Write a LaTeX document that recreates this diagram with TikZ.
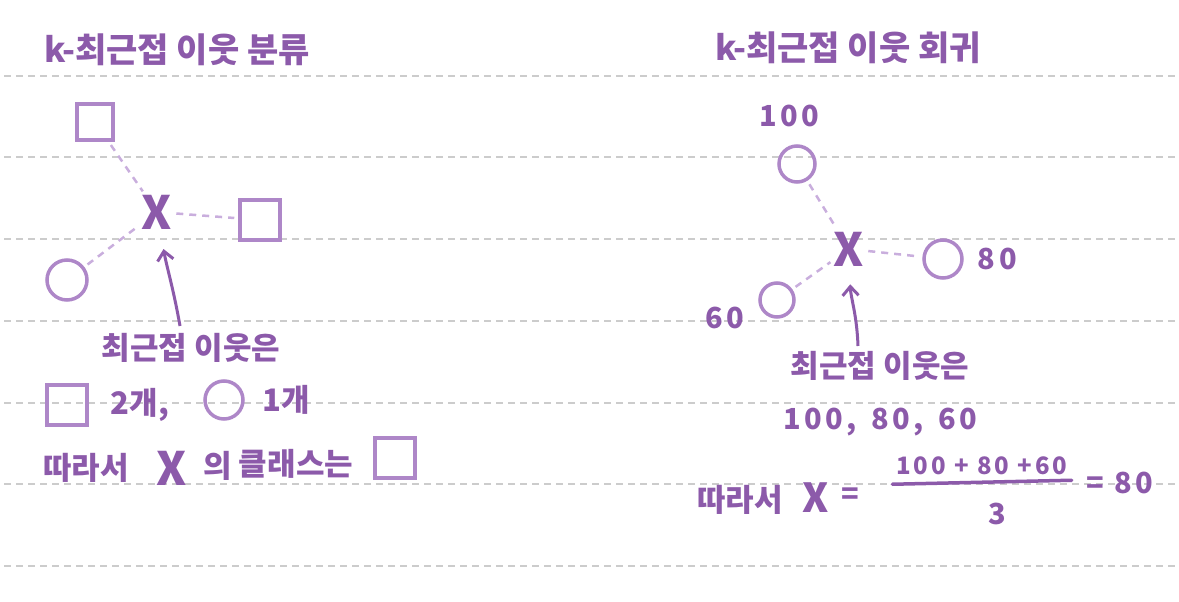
\documentclass[tikz,border=0pt]{standalone}
\usepackage{fontspec}
\setmainfont{Noto Sans CJK KR}
\newfontfamily\digitfont[LetterSpace=12]{Noto Sans CJK KR}
\usetikzlibrary{arrows.meta,positioning}
\definecolor{ink}{HTML}{8C5AAA}
\definecolor{shapec}{HTML}{AE87C8}
\definecolor{linkc}{HTML}{C9AEDD}
\definecolor{rulec}{HTML}{CCCCCC}

\begin{document}
\begin{tikzpicture}[x=1pt, y=-1pt, every node/.style={text=ink, inner sep=0pt}, title/.style={font=\fontsize{34}{36}\selectfont\bfseries}, note/.style={font=\fontsize{31}{34}\selectfont\bfseries}, num/.style={font=\digitfont\fontsize{29}{32}\selectfont\bfseries}, sq/.style={draw=shapec, line width=3.5pt, minimum size=36pt}, circ/.style={draw=shapec, line width=3.5pt, circle, minimum size=38pt}, query/.style={font=\fontsize{46}{46}\selectfont\bfseries}, link/.style={draw=linkc, line width=2.5pt, dash pattern=on 7pt off 6pt, shorten <=4pt, shorten >=4pt}, ptr/.style={draw=ink, line width=3pt, -{Straight Barb[length=9pt, width=16pt]}}]
\useasboundingbox (0,0) rectangle (1179,602);
% ruled paper
\foreach \y in {76,157,239,321,403,484,566}
  \draw[rulec, line width=1.2pt, dash pattern=on 7pt off 5pt] (4,\y) -- (1175,\y);

% left: classification
\node[title] (titlel) at (177,50) {k-최근접 이웃 분류};
\node[sq] (sqa) at (95,122) {};
\node[query] (xl) at (157,212) {X};
\node[sq, minimum size=40pt] (sqb) at (260,220) {};
\node[circ, minimum size=40pt] (cira) at (67,280) {};
\draw[link] (sqa) -- (xl);
\draw[link] (xl) -- (sqb);
\draw[link] (cira) -- (xl);
\coordinate (ptrl) at (180,326);
\draw[ptr, shorten >=20pt] (ptrl) to[out=100, in=-80] (xl);
\node[note] (nearl) at (191,348) {최근접 이웃은};
\node[sq, minimum size=40pt] (sqc) at (67,405) {};
\node[note, right=22pt of sqc] (twol) {2개,};
\node[circ] (cirb) at (224,400) {};
\node[note, right=18pt of cirb] (onel) {1개};
\node[note] (sol) at (86,468) {따라서};
\node[query] (xlb) at (172,468) {X};
\node[note] (ofl) at (218,466) {의};
\node[note] (classl) at (296,464) {클래스는};
\node[sq, minimum size=40pt] (sqd) at (395,458) {};

% right: regression
\node[title] (titler) at (848,48) {k-최근접 이웃 회귀};
\node[num] (va) at (789,116) {100};
\node[circ, minimum size=36pt] (circ) at (797,164) {};
\node[query] (xr) at (849,249) {X};
\node[circ] (cird) at (943,259) {};
\node[num, right=14pt of cird] (vb) {80};
\node[circ, minimum size=34pt] (cire) at (777,300) {};
\node[num] (vc) at (725,318) {60};
\draw[link] (circ) -- (xr);
\draw[link] (xr) -- (cird);
\draw[link] (cire) -- (xr);
\coordinate (ptrr) at (858,346);
\draw[ptr, shorten >=18pt] (ptrr) to[out=92, in=-88] (xr);
\node[note] (nearr) at (880,366) {최근접 이웃은};
\node[num] (valr) at (880,422) {100,\hspace{0.5em}80,\hspace{0.5em}60};
\node[note] (sor) at (740,500) {따라서};
\node[query, font=\fontsize{40}{40}\selectfont\bfseries] (xrb) at (816,498) {X};
\node[num] (eqa) at (850,496) {=};
\node[num, font=\digitfont\fontsize{24}{28}\selectfont\bfseries] (numr) at (982,466) {100 + 80 +60};
\draw[ink, line width=3.5pt, line cap=round] ([xshift=-4pt, yshift=-9pt]numr.south west) -- ([xshift=4pt, yshift=-5pt]numr.south east);
\node[num] (denr) at (997,514) {3};
\node[num] (resr) at (1120,483) {= 80};
\end{tikzpicture}
\end{document}
